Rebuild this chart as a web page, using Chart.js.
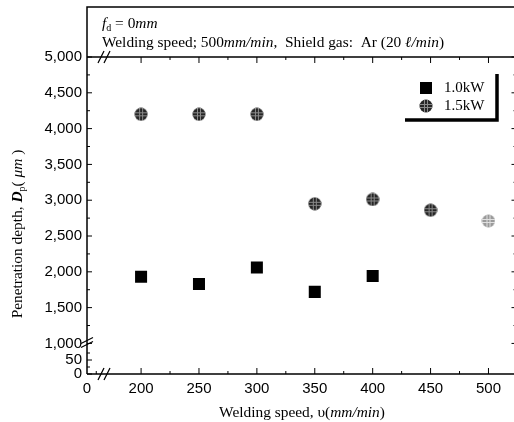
<!DOCTYPE html>
<html>
<head>
<meta charset="utf-8">
<script src="https://cdn.jsdelivr.net/npm/chart.js@4"></script>
<style>
  html, body { margin: 0; padding: 0; background: #fff; }
  #wrap { width: 514px; height: 422px; overflow: hidden; }
</style>
</head>
<body>
<div id="wrap"><canvas id="chart" width="525" height="422"></canvas></div>
<script>
const speeds = [200, 250, 300, 350, 400, 450, 500];
const depth10kW = [1930, 1830, 2060, 1720, 1940];
const depth15kW = [4200, 4200, 4200, 2950, 3010, 2860, 2710];
const xTickLabels = [0, 200, 250, 300, 350, 400, 450, 500];
const yTickLabels = [0, 50, 1000, 1500, 2000, 2500, 3000, 3500, 4000, 4500, 5000];
const seriesNames = ["1.0kW", "1.5kW"];

const SERIF = '"Liberation Serif", "Times New Roman", serif';
const SANS = '"Liberation Sans", Arial, sans-serif';

// both axes are broken, the part below the break is squeezed in
const X_MIN = 153.3, X_MAX = 524.2;
const Y_MIN = 573, Y_MAX = 5000, Y_LOW = 3.91;
const xAxisVal = (v) => (v < 100 ? X_MIN + v : v);
const yAxisVal = (v) => (v < 1000 ? Y_MIN + v * Y_LOW : v);

const makeDot = (fill, hatch) => {
  const c = document.createElement("canvas");
  c.width = 14;
  c.height = 14;
  const g = c.getContext("2d");
  g.beginPath();
  g.arc(7, 7, 6.5, 0, Math.PI * 2);
  g.fillStyle = fill;
  g.fill();
  g.save();
  g.clip();
  g.strokeStyle = hatch;
  g.lineWidth = 1;
  [5.5, 8.5].forEach((p) => {
    g.beginPath();
    g.moveTo(p, 0);
    g.lineTo(p, 14);
    g.moveTo(0, p);
    g.lineTo(14, p);
    g.stroke();
  });
  g.restore();
  return c;
};
const darkDot = makeDot("#262626", "#8a8a8a");
const lightDot = makeDot("#9a9a9a", "#e0e0e0");

const drawRich = (ctx, parts, x, y, align) => {
  let w = 0;
  parts.forEach((p) => {
    ctx.font = p.font;
    w += ctx.measureText(p.t).width;
  });
  let cx = align === "center" ? x - w / 2 : x;
  parts.forEach((p) => {
    ctx.font = p.font;
    ctx.fillText(p.t, cx, y + (p.dy || 0));
    cx += ctx.measureText(p.t).width;
  });
};

const slash = (ctx, x, y, dx, dy) => {
  ctx.beginPath();
  ctx.moveTo(x - dx, y + dy);
  ctx.lineTo(x + dx, y - dy);
  ctx.stroke();
};

const framePlugin = {
  id: "frame",
  beforeDatasetsDraw(chart) {
    const { ctx, chartArea: a, scales } = chart;
    const x = scales.x, y = scales.y;
    const top = 7;
    ctx.save();
    ctx.strokeStyle = "#000";
    ctx.lineWidth = 1.5;
    ctx.beginPath();
    ctx.moveTo(a.left, a.bottom);
    ctx.lineTo(a.left, top);
    ctx.lineTo(a.right, top);
    ctx.lineTo(a.right, a.bottom);
    ctx.lineTo(a.left, a.bottom);
    ctx.moveTo(a.left, a.top);
    ctx.lineTo(a.right, a.top);
    ctx.stroke();

    // break marks
    ctx.lineWidth = 1.2;
    [101, 107].forEach((bx) => {
      slash(ctx, bx, a.bottom, 3, 6);
      slash(ctx, bx, a.top, 3, 6);
    });
    const yb = y.getPixelForValue(1000);
    [yb + 1, yb - 3].forEach((by) => slash(ctx, a.left, by, 6, 3));

    // inward ticks
    ctx.lineWidth = 1;
    ctx.beginPath();
    for (let v = 1000; v <= 5000; v += 250) {
      const p = y.getPixelForValue(v);
      const len = v % 500 === 0 ? 5 : 3;
      ctx.moveTo(a.left, p);
      ctx.lineTo(a.left + len, p);
      ctx.moveTo(a.right, p);
      ctx.lineTo(a.right - len, p);
    }
    [0, 25, 50, 75].forEach((v) => {
      const p = y.getPixelForValue(yAxisVal(v));
      const len = v % 50 === 0 ? 5 : 3;
      ctx.moveTo(a.left, p);
      ctx.lineTo(a.left + len, p);
    });
    for (let v = 200; v <= 500; v += 25) {
      const p = x.getPixelForValue(v);
      const len = v % 50 === 0 ? 6 : 3;
      ctx.moveTo(p, a.bottom);
      ctx.lineTo(p, a.bottom - len);
      ctx.moveTo(p, a.top);
      ctx.lineTo(p, a.top + len);
    }
    const p0 = x.getPixelForValue(xAxisVal(8));
    ctx.moveTo(p0, a.bottom);
    ctx.lineTo(p0, a.bottom - 3);
    ctx.stroke();
    ctx.restore();
  },
  afterDraw(chart) {
    const { ctx } = chart;
    ctx.save();
    ctx.fillStyle = "#000";
    ctx.textBaseline = "alphabetic";

    // header inside the top box
    const n = "15.4px " + SERIF, it = "italic 15.4px " + SERIF;
    drawRich(ctx, [
      { t: "f", font: it },
      { t: "d", font: "10px " + SERIF, dy: 3 },
      { t: " = 0", font: n },
      { t: "mm", font: it },
    ], 102, 28);
    drawRich(ctx, [
      { t: "Welding speed; 500", font: n },
      { t: "mm/min", font: it },
      { t: ",  Shield gas:  Ar (20 ", font: n },
      { t: "ℓ/min", font: it },
      { t: ")", font: n },
    ], 102, 47);

    // axis titles
    drawRich(ctx, [
      { t: "Welding speed, υ(", font: n },
      { t: "mm/min", font: it },
      { t: ")", font: n },
    ], 302, 417, "center");
    ctx.save();
    ctx.translate(22, 234);
    ctx.rotate(-Math.PI / 2);
    drawRich(ctx, [
      { t: "Penetration depth, ", font: n },
      { t: "D", font: "italic bold 15.4px " + SERIF },
      { t: "p", font: "10px " + SERIF, dy: 3 },
      { t: "( ", font: n },
      { t: "μm", font: it },
      { t: " )", font: n },
    ], 0, 0, "center");
    ctx.restore();

    // legend with shadow-like frame
    ctx.lineWidth = 3.5;
    ctx.beginPath();
    ctx.moveTo(405, 120);
    ctx.lineTo(497, 120);
    ctx.lineTo(497, 74);
    ctx.stroke();
    ctx.fillRect(420, 82, 12, 12);
    ctx.drawImage(darkDot, 419, 99);
    ctx.font = "15px " + SERIF;
    ctx.textBaseline = "middle";
    ctx.fillText(seriesNames[0], 444, 88);
    ctx.fillText(seriesNames[1], 444, 106);
    ctx.restore();
  },
};

const ctx = document.getElementById("chart");
new Chart(ctx, {
  type: "scatter",
  data: {
    datasets: [
      {
        label: seriesNames[0],
        data: depth10kW.map((d, i) => ({ x: speeds[i], y: d })),
        pointStyle: "rect",
        pointRadius: 8.5,
        backgroundColor: "#000",
        borderWidth: 0,
      },
      {
        label: seriesNames[1],
        data: depth15kW.map((d, i) => ({ x: speeds[i], y: d })),
        pointStyle: depth15kW.map((d, i) => (i === depth15kW.length - 1 ? lightDot : darkDot)),
        pointRadius: 7,
      },
    ],
  },
  options: {
    responsive: false,
    animation: false,
    events: [],
    layout: { padding: { top: 57, right: 0, left: 0, bottom: 0 } },
    plugins: { legend: { display: false }, tooltip: { enabled: false } },
    scales: {
      x: {
        type: "linear",
        min: X_MIN,
        max: X_MAX,
        grid: { display: false, drawTicks: false },
        border: { display: false },
        afterBuildTicks: (s) => {
          s.ticks = xTickLabels.map((v) => ({ value: xAxisVal(v) }));
        },
        afterFit: (s) => {
          s.height = 48;
        },
        ticks: {
          autoSkip: false,
          maxRotation: 0,
          padding: 6,
          color: "#000",
          font: { family: SANS, size: 15 },
          callback: (v, i) => String(xTickLabels[i]),
        },
      },
      y: {
        type: "linear",
        min: Y_MIN,
        max: Y_MAX,
        grid: { display: false, drawTicks: false },
        border: { display: false },
        afterBuildTicks: (s) => {
          s.ticks = yTickLabels.map((v) => ({ value: yAxisVal(v) }));
        },
        afterFit: (s) => {
          s.width = 87;
        },
        ticks: {
          autoSkip: false,
          padding: 5,
          color: "#000",
          font: { family: SANS, size: 15 },
          callback: (v, i) => yTickLabels[i].toLocaleString("en-US"),
        },
      },
    },
  },
  plugins: [framePlugin],
});
</script>
</body>
</html>
